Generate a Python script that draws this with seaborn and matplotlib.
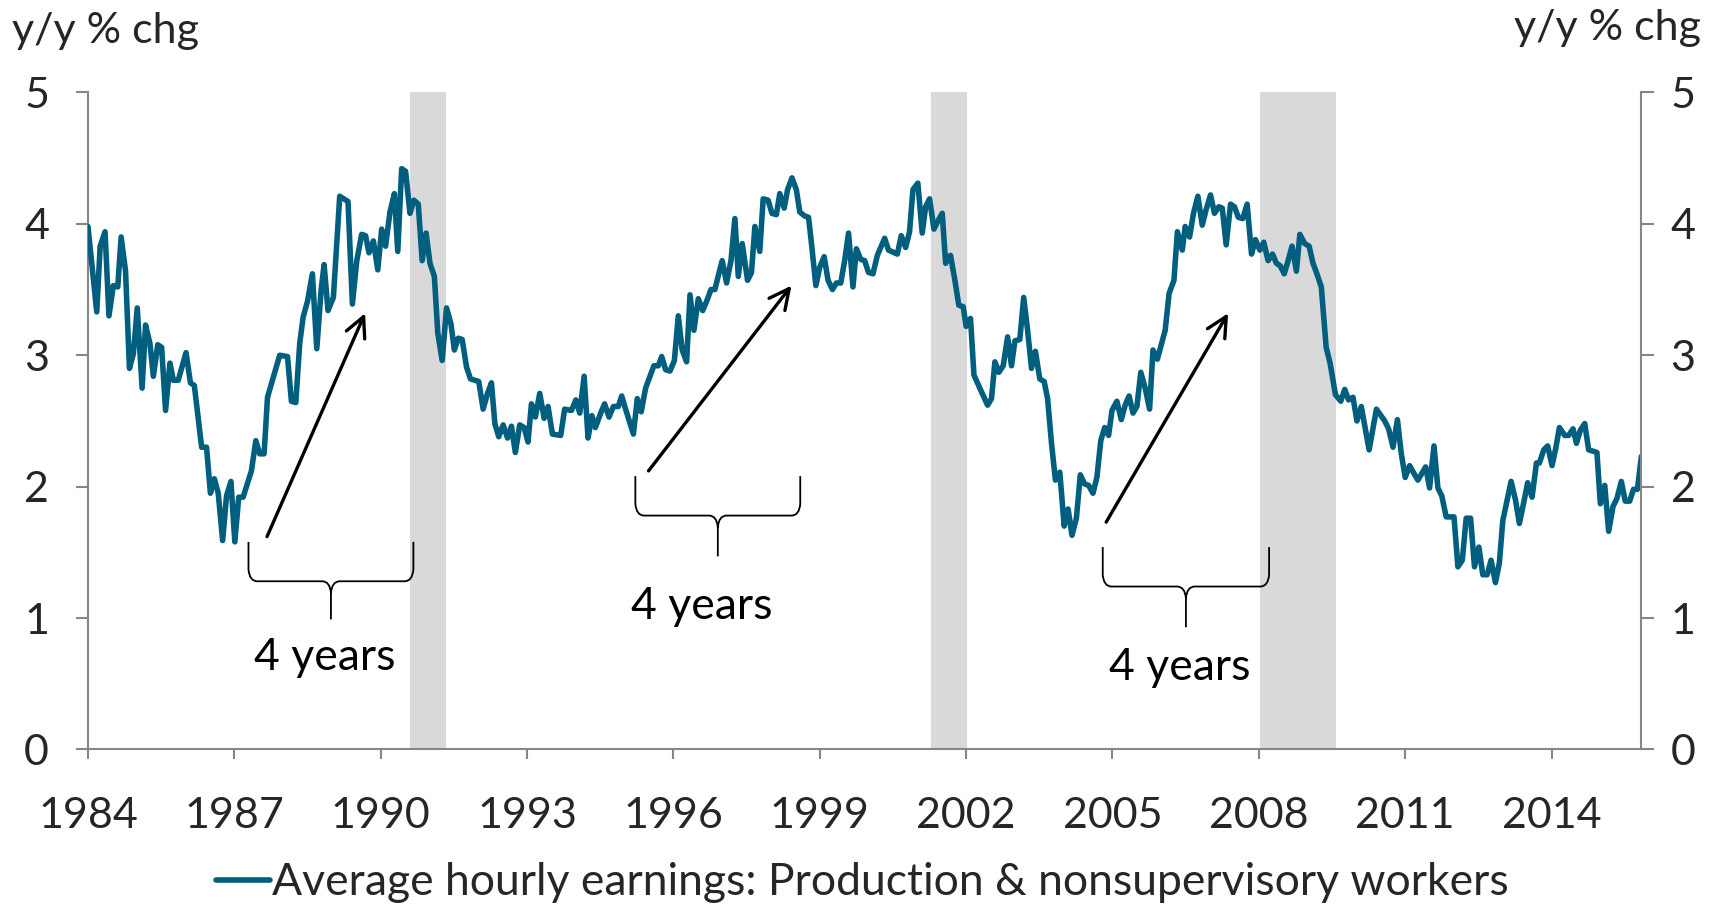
import matplotlib
matplotlib.use("Agg")
import matplotlib.pyplot as plt
from matplotlib.path import Path
from matplotlib.patches import PathPatch
import seaborn as sns

sns.set_theme(style="white")
plt.rcParams['font.family'] = ['Lato', 'DejaVu Sans']

# y/y % change (decimal year, value)
dates = [
    1984.00, 1984.18, 1984.25, 1984.35, 1984.43, 1984.52, 1984.61, 1984.68, 1984.77, 1984.85,
    1984.93, 1985.01, 1985.11, 1985.18, 1985.27, 1985.34, 1985.43, 1985.51, 1985.59, 1985.68,
    1985.75, 1985.85, 1986.01, 1986.10, 1986.18, 1986.33, 1986.43, 1986.51, 1986.59, 1986.67,
    1986.76, 1986.84, 1986.93, 1987.01, 1987.09, 1987.18, 1987.35, 1987.44, 1987.52, 1987.61,
    1987.68, 1987.93, 1988.09, 1988.17, 1988.26, 1988.34, 1988.41, 1988.50, 1988.60, 1988.69,
    1988.78, 1988.84, 1988.92, 1989.03, 1989.16, 1989.33, 1989.42, 1989.51, 1989.61, 1989.69,
    1989.76, 1989.85, 1989.94, 1990.02, 1990.10, 1990.19, 1990.28, 1990.35, 1990.43, 1990.51,
    1990.60, 1990.68, 1990.77, 1990.85, 1990.93, 1991.01, 1991.10, 1991.17, 1991.26, 1991.35,
    1991.44, 1991.51, 1991.59, 1991.67, 1991.76, 1991.84, 1992.01, 1992.10, 1992.19, 1992.27,
    1992.34, 1992.42, 1992.51, 1992.60, 1992.68, 1992.76, 1992.85, 1992.94, 1993.02, 1993.09,
    1993.17, 1993.26, 1993.35, 1993.43, 1993.52, 1993.69, 1993.77, 1993.91, 1994.00, 1994.08,
    1994.17, 1994.25, 1994.33, 1994.40, 1994.51, 1994.59, 1994.68, 1994.77, 1994.87, 1994.94,
    1995.02, 1995.18, 1995.26, 1995.34, 1995.43, 1995.52, 1995.60, 1995.69, 1995.76, 1995.84,
    1995.93, 1996.02, 1996.10, 1996.18, 1996.27, 1996.34, 1996.42, 1996.51, 1996.60, 1996.68,
    1996.77, 1996.85, 1996.93, 1997.00, 1997.09, 1997.18, 1997.26, 1997.33, 1997.41, 1997.52,
    1997.60, 1997.67, 1997.77, 1997.84, 1997.94, 1998.02, 1998.11, 1998.18, 1998.27, 1998.34,
    1998.43, 1998.52, 1998.59, 1998.69, 1998.77, 1998.83, 1998.92, 1999.00, 1999.09, 1999.17,
    1999.26, 1999.34, 1999.43, 1999.51, 1999.59, 1999.68, 1999.75, 1999.84, 1999.92, 2000.00,
    2000.09, 2000.18, 2000.33, 2000.41, 2000.59, 2000.67, 2000.76, 2000.84, 2000.91, 2001.01,
    2001.10, 2001.17, 2001.25, 2001.34, 2001.42, 2001.51, 2001.58, 2001.68, 2001.77, 2001.85,
    2001.94, 2002.00, 2002.09, 2002.16, 2002.28, 2002.44, 2002.52, 2002.59, 2002.67, 2002.76,
    2002.85, 2002.93, 2003.00, 2003.10, 2003.18, 2003.26, 2003.34, 2003.42, 2003.51, 2003.60,
    2003.67, 2003.75, 2003.83, 2003.92, 2004.01, 2004.09, 2004.17, 2004.26, 2004.34, 2004.43,
    2004.51, 2004.60, 2004.68, 2004.76, 2004.84, 2004.92, 2004.99, 2005.09, 2005.18, 2005.26,
    2005.34, 2005.42, 2005.50, 2005.58, 2005.67, 2005.76, 2005.83, 2005.92, 2006.00, 2006.08,
    2006.16, 2006.26, 2006.33, 2006.43, 2006.49, 2006.58, 2006.66, 2006.75, 2006.84, 2006.92,
    2007.01, 2007.09, 2007.18, 2007.25, 2007.33, 2007.42, 2007.50, 2007.58, 2007.67, 2007.76,
    2007.85, 2007.93, 2008.02, 2008.10, 2008.19, 2008.28, 2008.36, 2008.44, 2008.52, 2008.60,
    2008.68, 2008.77, 2008.84, 2008.94, 2009.03, 2009.11, 2009.19, 2009.28, 2009.38, 2009.46,
    2009.57, 2009.68, 2009.76, 2009.84, 2009.93, 2010.01, 2010.10, 2010.26, 2010.41, 2010.58,
    2010.66, 2010.75, 2010.84, 2010.92, 2011.00, 2011.09, 2011.18, 2011.26, 2011.34, 2011.42,
    2011.50, 2011.59, 2011.67, 2011.75, 2011.84, 2012.00, 2012.08, 2012.17, 2012.25, 2012.34,
    2012.42, 2012.51, 2012.59, 2012.68, 2012.76, 2012.85, 2012.93, 2013.00, 2013.09, 2013.17,
    2013.26, 2013.34, 2013.43, 2013.51, 2013.60, 2013.69, 2013.75, 2013.84, 2013.92, 2014.01,
    2014.09, 2014.16, 2014.27, 2014.35, 2014.44, 2014.51, 2014.59, 2014.68, 2014.76, 2014.85,
    2014.93, 2015.00, 2015.09, 2015.17, 2015.26, 2015.34, 2015.43, 2015.51, 2015.60, 2015.68,
    2015.76, 2015.84,
]
earnings = [
    3.98, 3.33, 3.83, 3.94, 3.30, 3.53, 3.52, 3.90, 3.64, 2.90,
    3.01, 3.36, 2.75, 3.23, 3.09, 2.84, 3.08, 3.06, 2.58, 2.94,
    2.81, 2.81, 3.02, 2.79, 2.77, 2.30, 2.30, 1.95, 2.06, 1.95,
    1.59, 1.93, 2.04, 1.58, 1.92, 1.92, 2.12, 2.35, 2.25, 2.25,
    2.68, 3.00, 2.99, 2.65, 2.64, 3.09, 3.29, 3.41, 3.62, 3.05,
    3.50, 3.69, 3.34, 3.44, 4.21, 4.17, 3.39, 3.72, 3.92, 3.91,
    3.78, 3.87, 3.65, 3.96, 3.83, 4.09, 4.23, 3.79, 4.42, 4.40,
    4.08, 4.18, 4.15, 3.72, 3.93, 3.70, 3.60, 3.17, 2.96, 3.36,
    3.24, 3.04, 3.13, 3.12, 2.91, 2.82, 2.80, 2.59, 2.71, 2.79,
    2.48, 2.38, 2.47, 2.37, 2.46, 2.26, 2.47, 2.45, 2.34, 2.63,
    2.53, 2.71, 2.52, 2.61, 2.40, 2.39, 2.59, 2.58, 2.66, 2.56,
    2.84, 2.37, 2.54, 2.45, 2.56, 2.63, 2.53, 2.61, 2.61, 2.69,
    2.59, 2.40, 2.67, 2.57, 2.75, 2.84, 2.92, 2.92, 2.99, 2.89,
    2.88, 2.96, 3.30, 3.04, 2.95, 3.46, 3.19, 3.43, 3.34, 3.41,
    3.50, 3.50, 3.62, 3.72, 3.55, 3.72, 4.04, 3.60, 3.85, 3.57,
    3.63, 3.98, 3.79, 4.19, 4.18, 4.08, 4.07, 4.23, 4.12, 4.26,
    4.35, 4.26, 4.09, 4.06, 4.05, 3.85, 3.53, 3.67, 3.75, 3.57,
    3.50, 3.55, 3.55, 3.72, 3.93, 3.52, 3.81, 3.73, 3.72, 3.63,
    3.62, 3.76, 3.89, 3.80, 3.77, 3.91, 3.82, 3.94, 4.26, 4.31,
    3.93, 4.13, 4.19, 3.96, 4.02, 4.08, 3.70, 3.76, 3.57, 3.38,
    3.37, 3.22, 3.28, 2.85, 2.75, 2.62, 2.67, 2.95, 2.87, 2.92,
    3.14, 2.92, 3.11, 3.12, 3.44, 3.19, 2.90, 3.03, 2.82, 2.80,
    2.67, 2.33, 2.05, 2.11, 1.70, 1.83, 1.63, 1.76, 2.09, 2.02,
    2.01, 1.95, 2.07, 2.35, 2.45, 2.39, 2.58, 2.65, 2.51, 2.62,
    2.69, 2.56, 2.61, 2.87, 2.75, 2.59, 3.04, 2.97, 3.08, 3.19,
    3.47, 3.57, 3.94, 3.80, 3.98, 3.90, 4.08, 4.21, 3.99, 4.11,
    4.22, 4.08, 4.13, 4.12, 3.84, 4.15, 4.13, 4.05, 4.04, 4.15,
    3.77, 3.88, 3.80, 3.86, 3.72, 3.77, 3.70, 3.68, 3.62, 3.72,
    3.83, 3.64, 3.92, 3.85, 3.83, 3.70, 3.62, 3.52, 3.06, 2.94,
    2.70, 2.65, 2.74, 2.66, 2.68, 2.50, 2.61, 2.28, 2.59, 2.50,
    2.44, 2.30, 2.51, 2.25, 2.07, 2.16, 2.10, 2.05, 2.10, 2.15,
    1.99, 2.31, 1.99, 1.93, 1.77, 1.77, 1.39, 1.44, 1.76, 1.76,
    1.39, 1.54, 1.33, 1.33, 1.44, 1.27, 1.42, 1.74, 1.90, 2.04,
    1.90, 1.72, 1.88, 2.03, 1.92, 2.18, 2.18, 2.28, 2.31, 2.16,
    2.30, 2.45, 2.39, 2.39, 2.44, 2.33, 2.43, 2.48, 2.28, 2.27,
    2.26, 1.87, 2.01, 1.66, 1.85, 1.91, 2.04, 1.89, 1.89, 1.98,
    1.98, 2.23,
]

# recessions (start, end)
recession_start = [1990.60, 2001.27, 2008.02]
recession_end = [1991.33, 2002.01, 2009.59]

# "4 years" annotations: arrow tail/head, brace left/right/top/bar/tip, label
arrow_tail = [(1987.67, 1.62), (1995.49, 2.12), (2004.87, 1.73)]
arrow_head = [(1989.68, 3.32), (1998.42, 3.53), (2007.37, 3.32)]
brace_left = [1987.29, 1995.22, 2004.80]
brace_right = [1990.67, 1998.60, 2008.21]
brace_top = [1.58, 2.08, 1.54]
brace_bar = [1.28, 1.78, 1.24]
brace_tip = [0.99, 1.47, 0.93]
label_pos = [(1988.85, 0.70), (1996.58, 1.09), (2006.38, 0.62)]

year_ticks = list(range(1984, 2015, 3))
value_ticks = [0, 1, 2, 3, 4, 5]

line_color = '#005E7E'
spine_color = '#868686'
fs = 31


def brace_path(xl, xr, top, bar, tip):
    xc = (xl + xr) / 2
    dx, dy = 0.18, 0.09
    verts = [
        (xl, top), (xl, bar + dy), (xl + 0.02, bar), (xl + dx, bar),
        (xc - dx, bar), (xc - 0.02, bar), (xc, bar - dy), (xc, tip),
        (xc, bar - dy), (xc + 0.02, bar), (xc + dx, bar),
        (xr - dx, bar), (xr - 0.02, bar), (xr, bar + dy), (xr, top),
    ]
    codes = [
        Path.MOVETO, Path.LINETO, Path.CURVE3, Path.CURVE3,
        Path.LINETO, Path.CURVE3, Path.CURVE3, Path.LINETO,
        Path.MOVETO, Path.CURVE3, Path.CURVE3,
        Path.LINETO, Path.CURVE3, Path.CURVE3, Path.LINETO,
    ]
    return Path(verts, codes)


def main():
    fig = plt.figure(figsize=(17.25, 9.09), dpi=100)
    ax = fig.add_axes([0.051, 0.1755, 0.9005, 0.7228])

    for s, e in zip(recession_start, recession_end):
        ax.axvspan(s, e, color='#D9D9D9', lw=0, zorder=0)

    sns.lineplot(x=dates, y=earnings, ax=ax, color=line_color, linewidth=4.0,
                 label='Average hourly earnings: Production & nonsupervisory workers',
                 legend=False, zorder=3)

    for i in range(3):
        ax.annotate('', xy=arrow_head[i], xytext=arrow_tail[i],
                    arrowprops=dict(arrowstyle='->', lw=2.4, color='black',
                                    mutation_scale=36, shrinkA=0, shrinkB=0))
        p = brace_path(brace_left[i], brace_right[i], brace_top[i], brace_bar[i], brace_tip[i])
        ax.add_patch(PathPatch(p, fill=False, lw=1.3, edgecolor='black', capstyle='butt'))
        ax.text(label_pos[i][0], label_pos[i][1], '4 years', fontsize=fs + 1,
                ha='center', va='center', color='black')

    ax.set_xlim(1984.0, 2015.84)
    ax.set_ylim(0, 5)
    ax.set_xticks(year_ticks)
    ax.set_xticklabels([str(y) for y in year_ticks])
    ax.set_yticks(value_ticks)
    ax.set_xlabel('')
    ax.set_ylabel('')
    ax.grid(False)

    for side in ['top', 'right']:
        ax.spines[side].set_visible(False)
    for side in ['left', 'bottom']:
        ax.spines[side].set_color(spine_color)
        ax.spines[side].set_linewidth(1.5)
    ax.tick_params(axis='x', direction='out', length=7, width=1.5, color=spine_color,
                   labelsize=fs, pad=27, bottom=True)
    ax.tick_params(axis='y', direction='out', length=9, width=1.5, color=spine_color,
                   labelsize=fs, pad=19, left=True)

    ax2 = ax.twinx()
    ax2.set_ylim(0, 5)
    ax2.set_yticks(value_ticks)
    for side in ['top', 'left', 'bottom']:
        ax2.spines[side].set_visible(False)
    ax2.spines['right'].set_color(spine_color)
    ax2.spines['right'].set_linewidth(1.5)
    ax2.tick_params(axis='y', direction='out', length=9, width=1.5, color=spine_color,
                    labelsize=fs, pad=12, right=True)
    ax2.grid(False)

    fig.text(0.007, 0.966, 'y/y % chg', fontsize=fs, ha='left', va='center')
    fig.text(0.986, 0.969, 'y/y % chg', fontsize=fs, ha='right', va='center')

    handles, labels = ax.get_legend_handles_labels()
    fig.legend(handles, labels, loc='center', bbox_to_anchor=(0.5, 0.029),
               frameon=False, fontsize=fs + 1, handlelength=1.2, handletextpad=0.05)

    fig.savefig('out.png', dpi=100)


if __name__ == '__main__':
    main()
